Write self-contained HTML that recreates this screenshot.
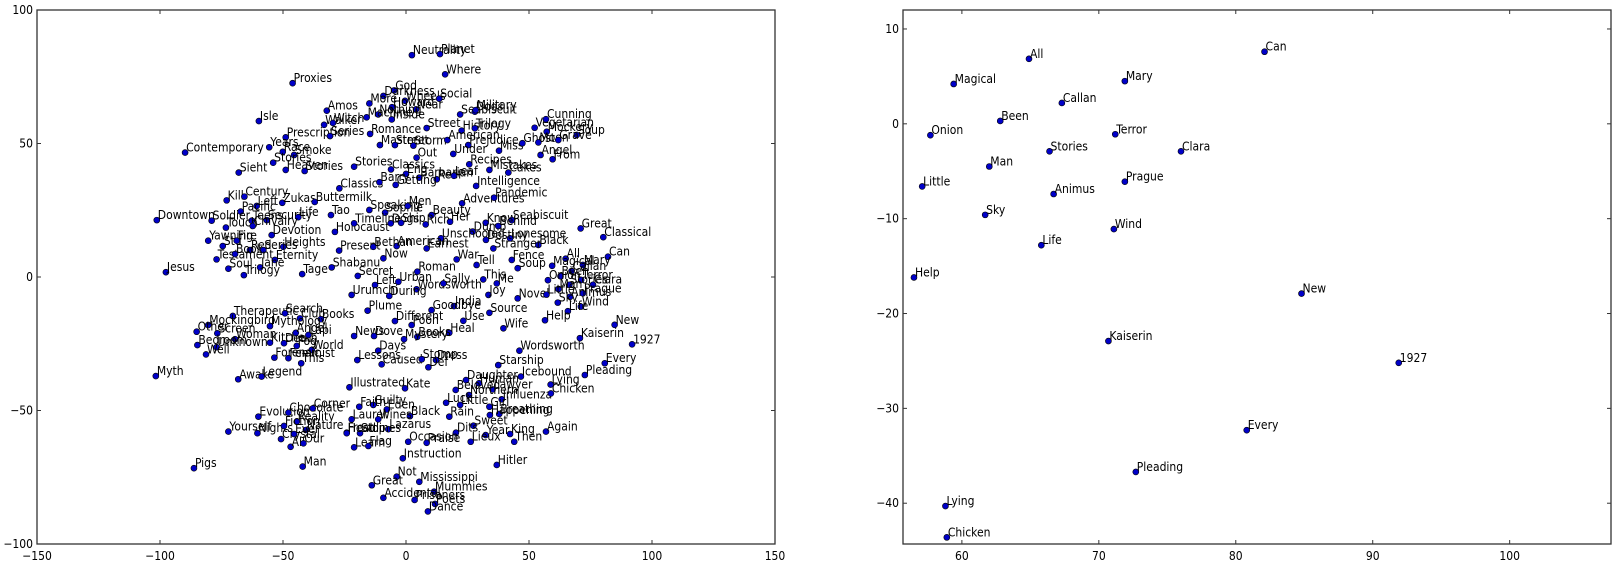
<!DOCTYPE html>
<html><head><meta charset="utf-8"><style>
html,body{margin:0;padding:0;background:#fff;}
svg{display:block;font-family:"DejaVu Sans Condensed","Liberation Sans Narrow","DejaVu Sans",sans-serif;}
.lbl{font-size:12px;fill:#000;}
.tick{font-size:12px;fill:#000;}
</style></head><body>
<svg id="chart" width="1618" height="580">
<g id="left"></g>
<g id="right"></g>
</svg>
<script>
const words = ["Proxies","Isle","Contemporary","Amos","Walker","Witch","Prescription","Series","Years","Race","Smoke","Stories","Heaven","Stories","Sieht","Stories","Classics","Kill","Century","Zukas","Buttermilk","Left","Pacific","Downtown","Soldier","Security","Life","Tao","Teens","Touch","Chivalry","Devotion","Yawning","Heights","Stu","Fire","Red","Series","Testament","Book","Eternity","Soul","Trilogy","Jane","Jesus","Tage","Holocaust","Shabanu","Present",
"Neutrality","Planet","Where","God","Darkness","More","Wheels","Social","Howard","Near","Nothing","Machine","Inside","Street","Romance","Seabiscuit","Dogs","Military","History","Trilogy","Master","Street","Storm","American","Prejudice","Under","Out","Miss","Ghost","Vegetarian","Cunning","Soup","Mockery","Moon","Grave","Angel","From","Recipes","Mistakes","Cakes","Classics","Eng","Barbarian","Reef","Leaf","Barry","Getting","Intelligence","Adventures","Pandemic","Speaking","Sophie","Men","Beauty","Timeline","Dogs","Ship","Rich","Her","Know","Seabiscuit","Dumb","Behind","Unschooled","Lonesome","Black","Great","Classical","Earnest","American","Bethan","Now","Destiny","Stranger","War","Roman","Tell","Fence","Soup","Secret",
"Left","Urban","Wordsworth","Sally","This","Me","Urumchi","During","Joy","Novel","India","Goodbye","Source","Use","Plume","Different","Pooh","Heal","Wife","Books","Mystery","News","Dove","Days","Wordsworth","Lessons","Caused","Stomp","Dress","Def","Starship","Icebound","Illustrated","Kate","Daughter","Human","Beloved","Lawyer","Northern","Influenza","Luck","Little","Guilty","Faith","Eden","Girl","Breathing","Happening","Black","Rain","Laurel","Wines","Sweet","Lazarus","Frost","Stop","Dits","Year","King","Again","Then","Lieux","Learn","Flag","Occasion","Praise","Instruction","Hitler","Not","Great","Mississippi","Mummies","Accidental","Prisoners","Poets","Dance",
"Therapeutic","Search","Club","Books","Mockingbird","Mythology","Other","Screen","Woman","Kitchen","Death","Angel","Lapi","Fog","World","Bedroom","Unknown","Well","Forensic","Feminist","This","Myth","Awake","Legend","Evolution","Chocolate","Corner","Reality","Yourself","Nights","Fiction","Nature","Headlines","Crystal","Ever","All","Our","Pigs","Man",
"Can","All","Magical","Mary","Callan","Been","Onion","Terror","Stories","Clara","Man","Prague","Little","Animus","Sky","Wind","Life","Help","New","Kaiserin","1927","Every","Pleading","Lying","Chicken"];
const xs = [-46.1,-59.8,-89.8,-32.2,-33.3,-29.7,-48.9,-30.9,-55.6,-50.1,-45.5,-54.0,-48.9,-41.2,-68.0,-21.1,-27.1,-72.9,-65.7,-50.3,-37.1,-60.7,-67.2,-101.3,-79.0,-56.6,-43.8,-30.5,-62.7,-73.2,-62.3,-54.6,-80.4,-49.9,-74.5,-68.8,-63.4,-58.0,-77.0,-69.5,-53.3,-72.2,-65.9,-59.3,-97.6,-42.2,-28.9,-30.2,-27.2,
2.4,13.8,15.9,-4.8,-9.2,-14.9,-0.4,13.5,-5.7,4.1,-11.3,-16.0,-5.8,8.4,-14.6,22.0,28.0,28.3,22.6,28.0,-10.6,-4.5,3.0,16.8,25.3,19.2,4.3,37.8,47.3,52.3,56.9,69.4,57.2,53.8,61.9,54.7,59.6,25.7,33.9,41.6,-6.1,0,5.4,12.5,19.5,-10.8,-4.2,28.5,22.8,35.8,-14.9,-8.5,0.7,10.4,-21.1,-6.2,-2.0,8.0,17.9,32.4,43.0,27.1,37.5,14.2,42.3,53.8,71.0,80.2,8.4,-3.8,-13.3,-9.2,32.5,35.5,20.6,4.6,28.7,43.0,45.4,-19.6,
-12.6,-3.1,4.3,15.2,31.4,36.9,-22.1,-6.8,33.5,45.4,19.5,10.4,33.9,23.3,-15.6,-4.5,2.3,17.6,39.6,4.6,-0.8,-21.1,-13.0,-11.3,46.1,-19.8,-9.9,6.4,12.2,9.1,37.5,46.7,-23.0,-0.4,24.4,29.7,20.2,35.2,25.6,38.9,16.3,22.0,-13.3,-19.0,-7.8,33.9,37.9,34.1,1.6,17.6,-22.1,-11.3,27.4,-7.2,-24.1,-18.7,20.3,32.4,42.3,56.9,44.0,26.3,-21.1,-15.3,0.9,8.4,-1.3,36.9,-3.8,-13.9,5.4,11.4,-9.2,3.5,11.8,8.9,
-70.4,-49.2,-43.1,-34.6,-80.4,-55.3,-85.1,-76.7,-69.5,-55.3,-49.6,-44.8,-39.7,-44.4,-38.3,-84.8,-77.0,-81.3,-53.5,-47.8,-42.6,-101.7,-68.2,-58.7,-60.0,-47.8,-37.9,-44.4,-72.2,-60.4,-49.6,-40.7,-24.1,-50.8,-45.5,-46.9,-41.7,-86.2,-42.0,
82.1,64.9,59.4,71.9,67.3,62.8,57.7,71.2,66.4,76.0,62.0,71.9,57.1,66.7,61.7,71.1,65.8,56.5,84.8,70.7,91.9,80.8,72.7,58.8,58.9];
const ys = [72.6,58.4,46.6,62.3,57.0,57.7,52.3,52.8,48.6,46.9,45.7,42.8,40.1,39.7,39.1,41.3,33.2,28.7,30.1,27.8,28.1,26.6,24.5,21.3,21.1,21.3,22.4,23.2,21.1,18.5,19.1,15.7,13.6,11.3,11.6,13.6,10.1,10.1,6.6,8.6,6.4,3.1,0.7,3.6,1.8,1.1,16.9,3.6,9.9,
83.1,83.5,75.9,69.9,67.8,65.0,66.0,66.8,63.6,62.8,60.9,59.8,59.0,55.8,53.6,60.9,61.9,62.5,54.8,55.7,49.4,49.4,49.2,51.3,49.4,46.1,44.7,47.3,50.1,55.9,59.1,53.2,54.4,50.4,51.3,45.7,44.1,42.2,40.1,39.1,40.3,38.6,37.2,36.6,37.9,35.5,34.5,34.1,27.6,29.7,25.1,24.1,26.6,23.2,20.1,20.1,20.3,19.7,20.7,20.3,21.3,17.0,19.1,14.5,14.5,12.0,18.2,14.9,10.7,11.6,11.3,7.0,13.9,10.7,6.6,2.0,4.5,6.4,3.3,0.4,
-3.0,-1.8,-4.6,-2.4,-0.9,-2.4,-6.7,-7.1,-6.7,-8.0,-10.9,-12.4,-13.4,-16.4,-12.6,-16.5,-18.0,-20.9,-19.2,-22.4,-23.3,-22.1,-22.1,-27.6,-27.6,-31.1,-32.7,-30.8,-31.1,-33.8,-33.0,-37.3,-41.3,-41.7,-38.6,-39.8,-42.3,-42.1,-44.2,-45.8,-47.1,-47.9,-47.9,-48.6,-49.6,-48.6,-51.3,-51.7,-52.1,-52.3,-53.3,-53.3,-55.7,-57.0,-58.3,-58.5,-58.3,-59.2,-58.8,-57.9,-61.7,-61.7,-63.8,-63.3,-61.7,-62.1,-67.9,-70.4,-74.8,-78.0,-76.7,-80.4,-82.7,-83.5,-85.0,-87.8,
-14.6,-13.6,-15.5,-15.8,-18.0,-18.4,-20.5,-21.1,-23.3,-24.6,-24.8,-20.9,-21.7,-25.8,-27.3,-25.5,-26.3,-29.0,-30.2,-30.4,-32.3,-37.1,-38.3,-37.3,-52.3,-50.8,-49.2,-54.2,-57.9,-58.5,-55.8,-57.3,-58.5,-60.7,-58.8,-63.6,-62.3,-71.6,-71.0,
7.6,6.85,4.2,4.5,2.2,0.3,-1.2,-1.1,-2.9,-2.9,-4.5,-6.1,-6.6,-7.4,-9.6,-11.1,-12.8,-16.2,-17.9,-22.9,-25.2,-32.3,-36.7,-40.3,-43.6];

const leftXTicks = [-150,-100,-50,0,50,100,150];
const leftYTicks = [100,50,0,-50,-100];
const rightXTicks = [60,70,80,90,100];
const rightYTicks = [10,0,-10,-20,-30,-40];

const NS = "http://www.w3.org/2000/svg";
function mk(tag, attrs, parent){const e=document.createElementNS(NS,tag);for(const k in attrs)e.setAttribute(k,attrs[k]);parent.appendChild(e);return e;}

function panel(g, box, xmin, xmax, ymin, ymax, xt, yt, clip){
  const sx = v => box.l + (v - xmin) / (xmax - xmin) * (box.r - box.l);
  const sy = v => box.b - (v - ymin) / (ymax - ymin) * (box.b - box.t);
  for (let i = 0; i < words.length; i++) {
    const x = xs[i], y = ys[i];
    if (clip && (x < xmin || x > xmax || y < ymin || y > ymax)) continue;
    const px = sx(x), py = sy(y);
    const c = mk("circle", {cx:px, cy:py, r:3, fill:"#0000c8", stroke:"#000", "stroke-width":0.6}, g);
    
    
    const t = mk("text", {x:px+1, y:py-1, class:"lbl"}, g);
    t.textContent = words[i];
    
    
  }
  const frame = mk("rect", {x:box.l, y:box.t, width:box.r-box.l, height:box.b-box.t, fill:"none", stroke:"#333", "stroke-width":1.3}, g);
  
  
  xt.forEach(v => {
    const px = sx(v);
    mk("line", {x1:px, x2:px, y1:box.b, y2:box.b-4, stroke:"#333"}, g);
    mk("line", {x1:px, x2:px, y1:box.t, y2:box.t+4, stroke:"#333"}, g);
    const t = mk("text", {x:px, y:box.b+16, "text-anchor":"middle", class:"tick"}, g);
    t.textContent = v < 0 ? "\u2212" + (-v) : v;
    
    
  });
  yt.forEach(v => {
    const py = sy(v);
    mk("line", {x1:box.l, x2:box.l+4, y1:py, y2:py, stroke:"#333"}, g);
    mk("line", {x1:box.r, x2:box.r-4, y1:py, y2:py, stroke:"#333"}, g);
    const t = mk("text", {x:box.l-4, y:py+4, "text-anchor":"end", class:"tick"}, g);
    t.textContent = v < 0 ? "\u2212" + (-v) : v;
    
    
  });
}
panel(document.getElementById("left"), {l:37,r:775,t:10,b:544}, -150, 150, -100, 100, leftXTicks, leftYTicks, false);
panel(document.getElementById("right"), {l:903,r:1611,t:10,b:544}, 55.7, 107.4, -44.3, 12.0, rightXTicks, rightYTicks, true);
</script>
</body></html>
